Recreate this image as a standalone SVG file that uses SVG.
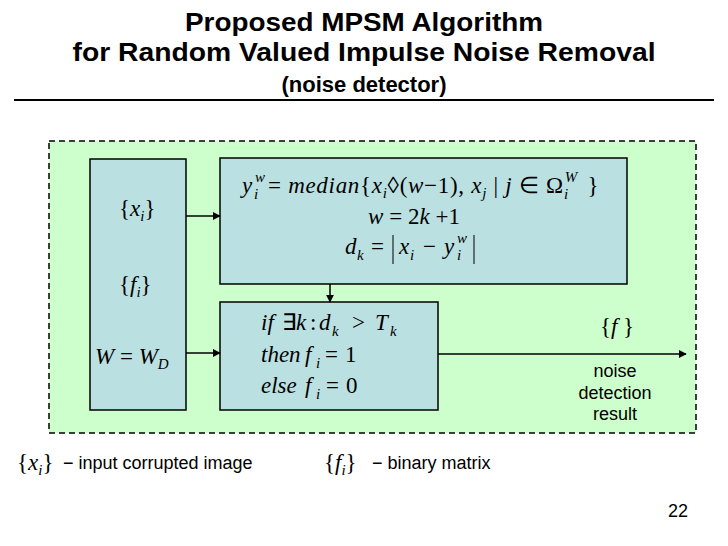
<svg xmlns="http://www.w3.org/2000/svg" width="728" height="546" viewBox="0 0 728 546">
<style>
.title{font-family:"Liberation Sans",Arial,sans-serif;font-weight:bold;fill:#000;text-anchor:middle}
.m{font-family:"Liberation Serif","Times New Roman",serif;font-size:23px;fill:#000}
.i{font-style:italic}
.s{font-size:15px}
.lab{font-family:"Liberation Sans",Arial,sans-serif;font-size:18px;fill:#000}
.box{fill:#bbe0e2;stroke:#000;stroke-width:1.5}
.bar{stroke:#000;stroke-width:1}
.conn{stroke:#000;stroke-width:1.5;fill:none;marker-end:url(#ah)}
</style>
<defs>
<marker id="ah" viewBox="0 0 10 10" refX="9" refY="5" markerWidth="8" markerHeight="8" markerUnits="userSpaceOnUse" orient="auto"><path d="M0,0 L10,5 L0,10 z" fill="#000"/></marker>
</defs>
<rect width="728" height="546" fill="#fff"/>
<g id="title">
<text class="title" x="364" y="31" font-size="26" textLength="358" lengthAdjust="spacingAndGlyphs">Proposed MPSM Algorithm</text>
<text class="title" x="364" y="61" font-size="26" textLength="583" lengthAdjust="spacingAndGlyphs">for Random Valued Impulse Noise Removal</text>
<text class="title" x="364" y="92" font-size="22">(noise detector)</text>
<line x1="14" y1="100" x2="714" y2="100" stroke="#000" stroke-width="2"/>
</g>
<g id="frame">
<rect x="49" y="141" width="647" height="292" fill="#ccffcc" stroke="#000" stroke-width="1.5" stroke-dasharray="6,4"/>
</g>
<g id="inputs">
<rect class="box" x="90" y="159" width="96" height="251"/>
<text class="m" x="119" y="216">{<tspan class="i">x</tspan><tspan class="i s" dy="5">i</tspan><tspan dy="-5">}</tspan></text>
<text class="m" x="119" y="292">{<tspan class="i">f</tspan><tspan class="i s" dy="5">i</tspan><tspan dy="-5">}</tspan></text>
<text class="m" x="95" y="364"><tspan class="i">W</tspan> = <tspan class="i">W</tspan><tspan class="i s" dy="5">D</tspan></text>
</g>
<g id="median">
<rect class="box" x="220" y="158" width="407" height="126"/>
<text class="m i" x="242" y="193">y</text>
<text class="m i s" x="255" y="182">w</text>
<text class="m i s" x="254" y="199">i</text>
<text class="m" x="268" y="193" letter-spacing="0.7">= <tspan class="i">median</tspan>{<tspan class="i">x</tspan><tspan class="i s" dy="5">i</tspan><tspan dy="-5">◊(</tspan><tspan class="i">w</tspan>−1), <tspan class="i">x</tspan><tspan class="i s" dy="5">j</tspan><tspan dy="-5"> | </tspan><tspan class="i">j</tspan> ∈ Ω<tspan class="i s" dx="1" dy="-11">W</tspan><tspan class="i s" dx="-13" dy="17">i</tspan><tspan dx="12" dy="-6"> }</tspan></text>
<text class="m" x="414" y="224" text-anchor="middle"><tspan class="i">w</tspan> = 2<tspan class="i">k</tspan> +1</text>
<text class="m i" x="345" y="254">d</text>
<text class="m i s" x="357" y="260">k</text>
<text class="m" x="371" y="254">=</text>
<line class="bar" x1="393" y1="235" x2="393" y2="264"/>
<text class="m i" x="399" y="254">x</text>
<text class="m i s" x="410" y="260">i</text>
<text class="m" x="423" y="254">−</text>
<text class="m i" x="444" y="254">y</text>
<text class="m i s" x="457" y="243">w</text>
<text class="m i s" x="457" y="260">i</text>
<line class="bar" x1="474" y1="235" x2="474" y2="264"/>
</g>
<g id="decision">
<rect class="box" x="220" y="302" width="218" height="108"/>
<text class="m i" x="261" y="330">if</text>
<text class="m" x="282" y="330">∃</text>
<text class="m i" x="296" y="330">k</text>
<text class="m" x="310" y="330">:</text>
<text class="m i" x="319" y="330">d</text>
<text class="m i s" x="332" y="336">k</text>
<text class="m" x="352" y="330">&gt;</text>
<text class="m i" x="375" y="330">T</text>
<text class="m i s" x="390" y="336">k</text>
<text class="m i" x="261" y="362">then</text>
<text class="m i" x="305" y="362">f</text>
<text class="m i s" x="316" y="368">i</text>
<text class="m" x="325" y="362">=</text>
<text class="m" x="345" y="362">1</text>
<text class="m i" x="261" y="393">else</text>
<text class="m i" x="305" y="393">f</text>
<text class="m i s" x="316" y="399">i</text>
<text class="m" x="326" y="393">=</text>
<text class="m" x="346" y="393">0</text>
</g>
<g id="output">
<text class="m" x="617" y="334" text-anchor="middle">{<tspan class="i">f</tspan> }</text>
<text class="lab" x="615" y="377" text-anchor="middle">noise</text>
<text class="lab" x="615" y="399" text-anchor="middle">detection</text>
<text class="lab" x="615" y="420" text-anchor="middle">result</text>
</g>
<g id="connectors">
<line class="conn" x1="186" y1="216" x2="220" y2="216"/>
<line class="conn" x1="186" y1="353" x2="220" y2="353"/>
<line class="conn" x1="330" y1="284" x2="330" y2="302"/>
<line class="conn" x1="438" y1="354" x2="686" y2="354"/>
</g>
<g id="legend">
<text class="m" x="17" y="470">{<tspan class="i">x</tspan><tspan class="i s" dy="5">i</tspan><tspan dy="-5">}</tspan></text>
<text class="lab" x="63" y="469" font-size="19">− input corrupted image</text>
<text class="m" x="324" y="470">{<tspan class="i">f</tspan><tspan class="i s" dy="5">i</tspan><tspan dy="-5">}</tspan></text>
<text class="lab" x="372" y="469">− binary matrix</text>
<text class="lab" x="688" y="517" text-anchor="end" font-size="14">22</text>
</g>
</svg>
